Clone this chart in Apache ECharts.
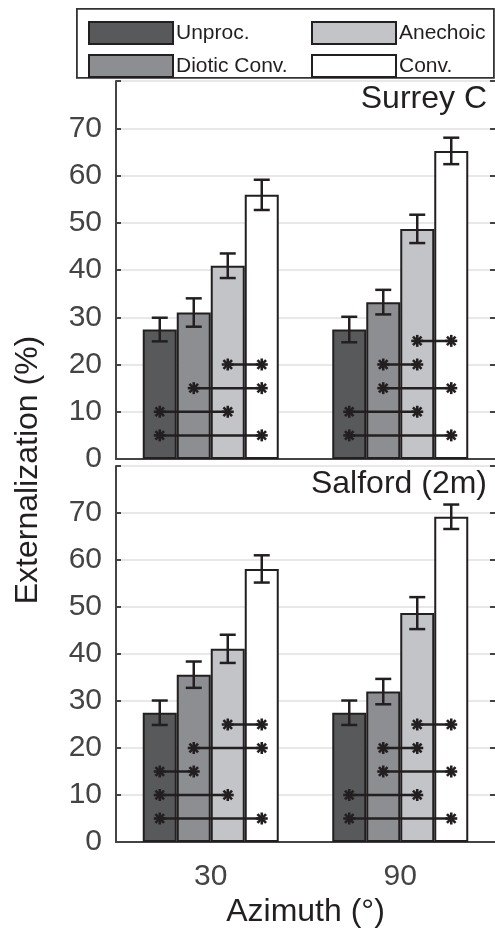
<!DOCTYPE html>
<html>
<head>
<meta charset="utf-8">
<script src="https://cdn.jsdelivr.net/npm/echarts@6/dist/echarts.min.js"></script>
<style>
  html, body { margin: 0; padding: 0; background: #fff; }
  #chart { width: 495px; height: 929px; }
</style>
</head>
<body>
<div id="chart"></div>
<script>
  // azimuth categories and conditions
  var categories = ['30', '90'];
  var seriesNames = ['Unproc.', 'Diotic Conv.', 'Anechoic', 'Conv.'];
  var barColors = ['#58595b', '#8d8e91', '#c3c4c7', '#ffffff'];

  // means per condition, one value per azimuth
  var surreyMeans = [[27.4, 27.4], [31.0, 33.2], [40.9, 48.7], [55.9, 65.2]];
  var surreyErr = [[2.5, 2.7], [3.0, 2.6], [2.6, 3.0], [3.2, 2.8]];
  var salfordMeans = [[27.5, 27.5], [35.6, 32.0], [41.1, 48.7], [58.1, 69.2]];
  var salfordErr = [[2.6, 2.6], [2.8, 2.7], [3.0, 3.4], [2.9, 2.6]];

  // significance brackets: [azimuth index, from bar, to bar, height]
  var surreySig = [
    [0, 2, 3, 20], [0, 1, 3, 15], [0, 0, 2, 10], [0, 0, 3, 5],
    [1, 2, 3, 25], [1, 1, 2, 20], [1, 1, 3, 15], [1, 0, 2, 10], [1, 0, 3, 5]
  ];
  var salfordSig = [
    [0, 2, 3, 25], [0, 1, 3, 20], [0, 0, 1, 15], [0, 0, 2, 10], [0, 0, 3, 5],
    [1, 2, 3, 25], [1, 1, 2, 20], [1, 1, 3, 15], [1, 0, 2, 10], [1, 0, 3, 5]
  ];

  var yTicks = [0, 10, 20, 30, 40, 50, 60, 70];
  var panelTitles = ['Surrey C', 'Salford (2m)'];

  var BW = 34; // bar width in px
  var axisColor = '#444';
  var font = 'Liberation Sans, Arial, Helvetica, sans-serif';

  var myChart = echarts.init(document.getElementById('chart'));

  function errorData(means, errs) {
    var out = [];
    for (var k = 0; k < means.length; k++) {
      for (var c = 0; c < categories.length; c++) {
        out.push([c, means[k][c], errs[k][c], k]);
      }
    }
    return out;
  }

  function renderError(params, api) {
    var c = api.value(0), v = api.value(1), e = api.value(2), k = api.value(3);
    var off = (k - 1.5) * BW;
    var top = api.coord([c, v + e]);
    var bot = api.coord([c, v - e]);
    var x = top[0] + off;
    var st = { stroke: '#231f20', lineWidth: 2.5 };
    return {
      type: 'group',
      children: [
        { type: 'line', shape: { x1: x, y1: top[1], x2: x, y2: bot[1] }, style: st },
        { type: 'line', shape: { x1: x - 8, y1: top[1], x2: x + 8, y2: top[1] }, style: st },
        { type: 'line', shape: { x1: x - 8, y1: bot[1], x2: x + 8, y2: bot[1] }, style: st }
      ]
    };
  }

  // asterisk marker like matlab '*'
  function star(x, y) {
    var r = 6, d = 4.3;
    var st = { stroke: '#231f20', lineWidth: 2.6 };
    return [
      { type: 'line', shape: { x1: x - r, y1: y, x2: x + r, y2: y }, style: st },
      { type: 'line', shape: { x1: x, y1: y - r, x2: x, y2: y + r }, style: st },
      { type: 'line', shape: { x1: x - d, y1: y - d, x2: x + d, y2: y + d }, style: st },
      { type: 'line', shape: { x1: x - d, y1: y + d, x2: x + d, y2: y - d }, style: st }
    ];
  }

  function renderSig(params, api) {
    var c = api.value(0), a = api.value(1), b = api.value(2), lvl = api.value(3);
    var p = api.coord([c, lvl]);
    var xa = p[0] + (a - 1.5) * BW;
    var xb = p[0] + (b - 1.5) * BW;
    var st = { stroke: '#231f20', lineWidth: 2.5 };
    var kids = [{ type: 'line', shape: { x1: xa, y1: p[1], x2: xb, y2: p[1] }, style: st }];
    return { type: 'group', children: kids.concat(star(xa, p[1]), star(xb, p[1])) };
  }

  var grids = [
    { left: 116, right: -1, top: 81, height: 378 },
    { left: 116, right: -1, top: 466, height: 378 }
  ];

  var xAxes = [], yAxes = [], series = [], titles = [];
  [surreyMeans, salfordMeans].forEach(function (means, g) {
    var errs = g === 0 ? surreyErr : salfordErr;
    var sig = g === 0 ? surreySig : salfordSig;
    var last = g === 1;
    xAxes.push({
      type: 'category', gridIndex: g, data: categories, position: 'bottom',
      axisLine: { lineStyle: { color: axisColor, width: 2 } },
      axisTick: { show: false },
      axisLabel: { show: last, color: '#444', fontSize: 30, fontFamily: font, margin: 20 },
      name: last ? 'Azimuth (°)' : '', nameLocation: 'middle', nameGap: 54,
      nameTextStyle: { color: '#231f20', fontSize: 32, fontFamily: font }
    });
    xAxes.push({
      type: 'category', gridIndex: g, data: categories, position: 'top',
      axisLine: { lineStyle: { color: axisColor, width: 2 } },
      axisTick: { inside: true, length: 5, alignWithLabel: true, lineStyle: { color: axisColor, width: 2 } },
      axisLabel: { show: false }
    });
    yAxes.push({
      type: 'value', gridIndex: g, min: 0, max: 80, interval: 10, position: 'left',
      axisLine: { show: true, lineStyle: { color: axisColor, width: 2 } },
      axisTick: { show: true, inside: true, length: 5, lineStyle: { color: axisColor, width: 2 } },
      axisLabel: {
        color: '#444', fontSize: 30, fontFamily: font, margin: 14,
        formatter: function (v) { return yTicks.indexOf(v) >= 0 ? String(v) : ''; }
      },
      splitLine: { show: true, lineStyle: { color: '#e0e0e0', width: 1.5 } }
    });
    yAxes.push({
      type: 'value', gridIndex: g, min: 0, max: 80, interval: 10, position: 'right',
      axisLine: { show: false },
      axisTick: { show: true, inside: true, length: 5, lineStyle: { color: axisColor, width: 2 } },
      axisLabel: { show: false },
      splitLine: { show: false }
    });
    seriesNames.forEach(function (name, k) {
      series.push({
        name: name, type: 'bar', xAxisIndex: g * 2, yAxisIndex: g * 2,
        data: means[k], barWidth: BW, barGap: '0%',
        itemStyle: { color: barColors[k], borderColor: '#231f20', borderWidth: 2 },
        emphasis: { disabled: true }
      });
    });
    series.push({
      type: 'custom', xAxisIndex: g * 2, yAxisIndex: g * 2, z: 5,
      data: errorData(means, errs), renderItem: renderError, silent: true
    });
    series.push({
      type: 'custom', xAxisIndex: g * 2, yAxisIndex: g * 2, z: 5,
      data: sig, renderItem: renderSig, silent: true
    });
    titles.push({
      text: panelTitles[g], right: 3, top: grids[g].top - 3,
      textStyle: { color: '#231f20', fontSize: 32, fontWeight: 'normal', fontFamily: font }
    });
  });

  var legendBase = {
    orient: 'vertical', top: 16, itemWidth: 84, itemHeight: 22, itemGap: 9,
    icon: 'rect', selectedMode: false,
    textStyle: { color: '#231f20', fontSize: 21, fontFamily: font, padding: [0, 0, 0, -2] }
  };

  var option = {
    animation: false,
    title: titles,
    legend: [
      Object.assign({}, legendBase, { left: 83, data: ['Unproc.', 'Diotic Conv.'] }),
      Object.assign({}, legendBase, { left: 306, data: ['Anechoic', 'Conv.'] })
    ],
    grid: grids,
    xAxis: xAxes,
    yAxis: yAxes,
    series: series,
    graphic: [
      {
        type: 'rect', left: 76, top: 8, z: -1,
        shape: { width: 417, height: 69 },
        style: { fill: '#fff', stroke: '#333', lineWidth: 1.8 }
      },
      {
        type: 'text', x: 28, y: 470, rotation: Math.PI / 2,
        style: {
          text: 'Externalization (%)', fill: '#231f20', fontSize: 32, fontFamily: font,
          textAlign: 'center', textVerticalAlign: 'middle'
        }
      }
    ]
  };

  myChart.setOption(option);
</script>
</body>
</html>
